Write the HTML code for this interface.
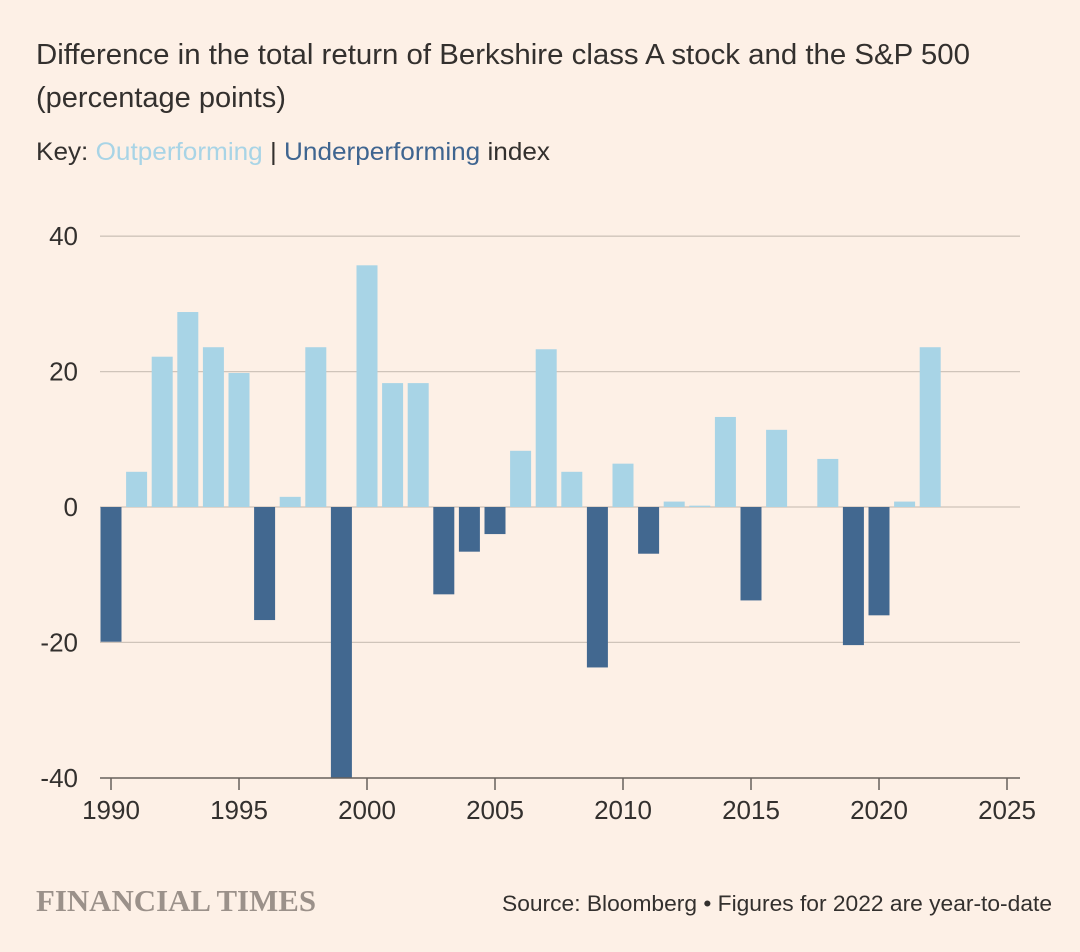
<!DOCTYPE html>
<html><head><meta charset="utf-8">
<style>
body{margin:0;background:#fdf0e6;}
svg{display:block;font-family:"Liberation Sans",sans-serif;}
</style></head>
<body>
<svg id="chart" width="1080" height="952" viewBox="0 0 1080 952" xmlns="http://www.w3.org/2000/svg">
<rect width="1080" height="952" fill="#fdf0e6"/>
<text x="36" y="64" font-size="29" fill="#33302e" textLength="934" lengthAdjust="spacingAndGlyphs">Difference in the total return of Berkshire class A stock and the S&amp;P 500</text>
<text x="36" y="107" font-size="29" fill="#33302e">(percentage points)</text>
<text x="36" y="160" font-size="25" fill="#33302e" textLength="514" lengthAdjust="spacingAndGlyphs">Key: <tspan fill="#a8d4e6">Outperforming</tspan> | <tspan fill="#3f6590">Underperforming</tspan> index</text>
<g id="grid"></g>
<g id="bars"></g>
<g id="axes"></g>
<text x="36" y="911" font-size="31" fill="#9b918a" font-weight="bold" font-family="Liberation Serif,serif" textLength="280" lengthAdjust="spacingAndGlyphs">FINANCIAL TIMES</text>
<text x="1052" y="911" font-size="22" fill="#33302e" text-anchor="end" textLength="550" lengthAdjust="spacingAndGlyphs">Source: Bloomberg • Figures for 2022 are year-to-date</text>
</svg>
<script>
const years=[1990,1991,1992,1993,1994,1995,1996,1997,1998,1999,2000,2001,2002,2003,2004,2005,2006,2007,2008,2009,2010,2011,2012,2013,2014,2015,2016,2017,2018,2019,2020,2021,2022];
const values=[-19.9,5.2,22.2,28.8,23.6,19.8,-16.7,1.5,23.6,-40,35.7,18.3,18.3,-12.9,-6.6,-4.0,8.3,23.3,5.2,-23.7,6.4,-6.9,0.8,0.2,13.3,-13.8,11.4,0,7.1,-20.4,-16.0,0.8,23.6];
const yTicks=[40,20,0,-20,-40];
const xTicks=[1990,1995,2000,2005,2010,2015,2020,2025];
const NS="http://www.w3.org/2000/svg";
const y=v=>507-v*6.77;
const x=t=>111+(t-1990)*25.6;
function mk(tag,attrs,parent){const e=document.createElementNS(NS,tag);for(const k in attrs)e.setAttribute(k,attrs[k]);document.getElementById(parent).appendChild(e);return e;}
yTicks.forEach(v=>{
  if(v!==-40){const l=mk('line',{x1:100,x2:1020,y1:y(v),y2:y(v),stroke:'#cfc4ba','stroke-width':1.3},'grid');
  
  }
  const t=mk('text',{x:78,y:y(v)+9,'font-size':26,fill:'#33302e','text-anchor':'end'},'axes');
  t.textContent=v;
  
  
});
years.forEach((yr,i)=>{
  const v=values[i];if(v===0)return;
  const top=Math.min(y(v),y(0)),h=Math.abs(y(v)-y(0));
  const r=mk('rect',{x:x(yr)-10.5,y:top,width:21,height:h,fill:v>0?'#a8d4e6':'#426890'},'bars');
  
  
});
const ax=mk('line',{x1:100,x2:1020,y1:778,y2:778,stroke:'#66605c','stroke-width':1.5},'axes');


xTicks.forEach(t=>{
  const l=mk('line',{x1:x(t),x2:x(t),y1:778,y2:790,stroke:'#66605c','stroke-width':1.5},'axes');
  
  
  const tx=mk('text',{x:x(t),y:819,'font-size':26,fill:'#33302e','text-anchor':'middle'},'axes');
  tx.textContent=t;
  
  
});
</script>
</body></html>
